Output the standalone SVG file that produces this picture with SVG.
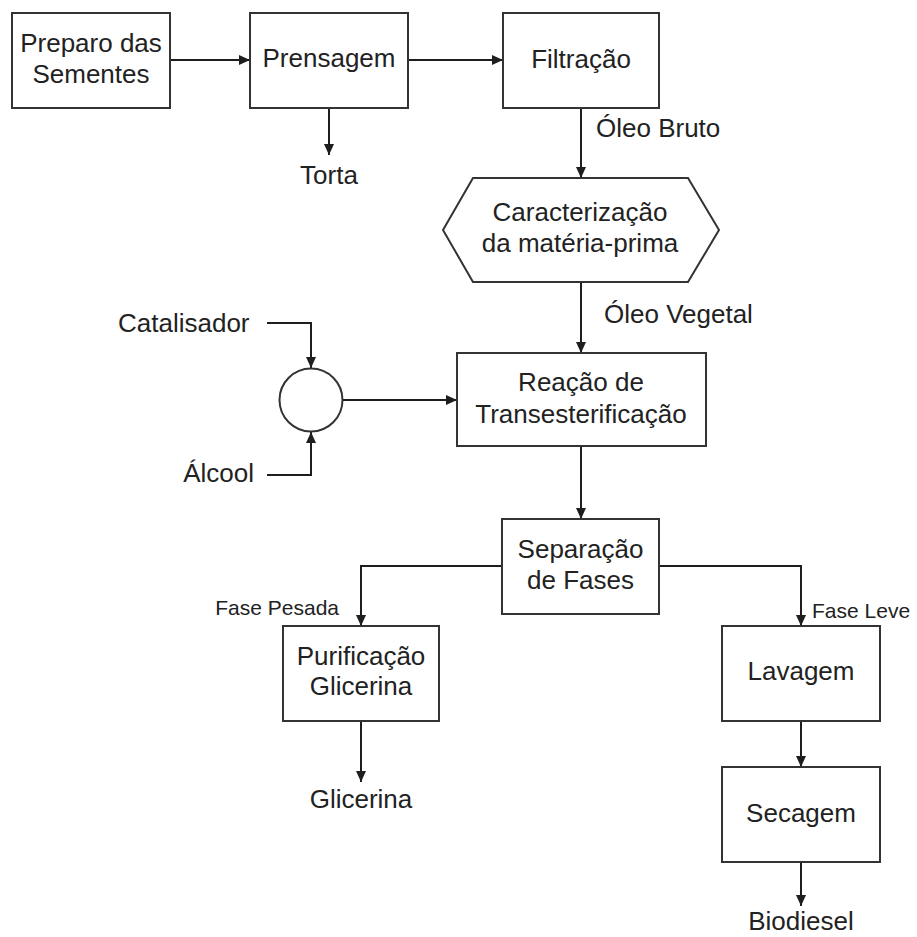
<svg xmlns="http://www.w3.org/2000/svg" width="917" height="937" viewBox="0 0 917 937">
<defs>
<marker id="ah" markerUnits="userSpaceOnUse" markerWidth="11" markerHeight="10" refX="11" refY="5" orient="auto">
<path d="M0,0 L11,5 L0,10 z" fill="#1e1e1e"/>
</marker>
<style>
.box{fill:#fff;stroke:#333;stroke-width:2}
.t{font-family:"Liberation Sans",Arial,sans-serif;font-size:26px;fill:#222;text-anchor:middle}
.s{font-family:"Liberation Sans",Arial,sans-serif;font-size:21px;fill:#222}
.c{fill:none;stroke:#1e1e1e;stroke-width:2}
</style>
</defs>
<rect width="917" height="937" fill="#fff"/>
<g id="connectors">
<line class="c" x1="170" y1="60" x2="250" y2="60" marker-end="url(#ah)"/>
<line class="c" x1="408" y1="60" x2="503" y2="60" marker-end="url(#ah)"/>
<line class="c" x1="329" y1="108" x2="329" y2="155" marker-end="url(#ah)"/>
<line class="c" x1="581" y1="108" x2="581" y2="178" marker-end="url(#ah)"/>
<line class="c" x1="581" y1="282" x2="581" y2="353" marker-end="url(#ah)"/>
<polyline class="c" points="267,323 311,323 311,368" marker-end="url(#ah)"/>
<polyline class="c" points="267,475 311,475 311,432" marker-end="url(#ah)"/>
<line class="c" x1="343" y1="400" x2="457" y2="400" marker-end="url(#ah)"/>
<line class="c" x1="581" y1="446" x2="581" y2="519" marker-end="url(#ah)"/>
<polyline class="c" points="502,566 361,566 361,626" marker-end="url(#ah)"/>
<polyline class="c" points="659,566 801,566 801,626" marker-end="url(#ah)"/>
<line class="c" x1="361" y1="721" x2="361" y2="782" marker-end="url(#ah)"/>
<line class="c" x1="801" y1="721" x2="801" y2="767" marker-end="url(#ah)"/>
<line class="c" x1="801" y1="862" x2="801" y2="906" marker-end="url(#ah)"/>
</g>
<g id="preparo">
<rect class="box" x="12" y="13" width="158" height="95"/>
<text class="t" x="91" y="52">Preparo das</text>
<text class="t" x="91" y="83">Sementes</text>
</g>
<g id="prensagem">
<rect class="box" x="250" y="13" width="158" height="95"/>
<text class="t" x="329" y="67">Prensagem</text>
</g>
<g id="torta">
<text class="t" x="329" y="184">Torta</text>
</g>
<g id="filtracao">
<rect class="box" x="503" y="13" width="156" height="95"/>
<text class="t" x="581" y="68">Filtração</text>
</g>
<g id="oleo-bruto">
<text class="t" x="596" y="137" style="text-anchor:start">Óleo Bruto</text>
</g>
<g id="caracterizacao">
<polygon class="box" points="443,230 473,178 688,178 719,230 688,282 473,282"/>
<text class="t" x="580" y="221">Caracterização</text>
<text class="t" x="580" y="252">da matéria-prima</text>
</g>
<g id="oleo-vegetal">
<text class="t" x="604" y="323" style="text-anchor:start">Óleo Vegetal</text>
</g>
<g id="catalisador">
<text class="t" x="118" y="332" style="text-anchor:start">Catalisador</text>
</g>
<g id="alcool">
<text class="t" x="254" y="482" style="text-anchor:end">Álcool</text>
</g>
<g id="mistura">
<circle class="box" cx="311" cy="400" r="31.5"/>
</g>
<g id="reacao">
<rect class="box" x="457" y="353" width="249" height="93"/>
<text class="t" x="581" y="391">Reação de</text>
<text class="t" x="581" y="423">Transesterificação</text>
</g>
<g id="separacao">
<rect class="box" x="502" y="519" width="157" height="95"/>
<text class="t" x="580.5" y="558">Separação</text>
<text class="t" x="580.5" y="589">de Fases</text>
</g>
<g id="fase-pesada">
<text class="s" x="339" y="615" style="text-anchor:end">Fase Pesada</text>
</g>
<g id="fase-leve">
<text class="s" x="812" y="618">Fase Leve</text>
</g>
<g id="purificacao">
<rect class="box" x="283" y="626" width="156" height="95"/>
<text class="t" x="361" y="665">Purificação</text>
<text class="t" x="361" y="695">Glicerina</text>
</g>
<g id="glicerina">
<text class="t" x="361" y="808">Glicerina</text>
</g>
<g id="lavagem">
<rect class="box" x="722" y="626" width="158" height="95"/>
<text class="t" x="801" y="680">Lavagem</text>
</g>
<g id="secagem">
<rect class="box" x="722" y="767" width="158" height="95"/>
<text class="t" x="801" y="822">Secagem</text>
</g>
<g id="biodiesel">
<text class="t" x="801" y="930">Biodiesel</text>
</g>
</svg>
